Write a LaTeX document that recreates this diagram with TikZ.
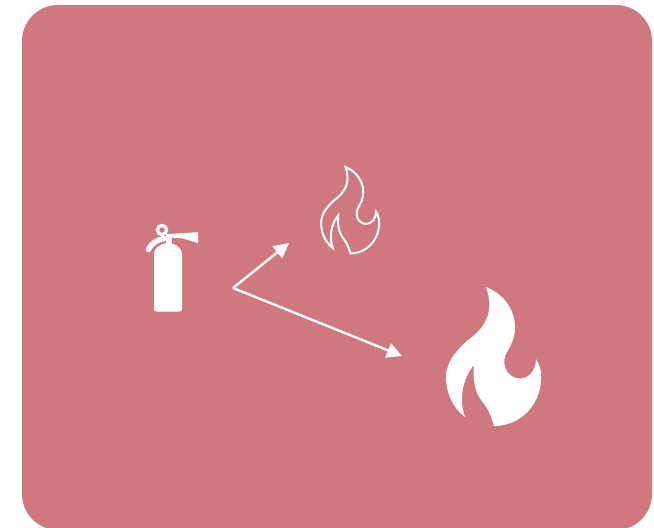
\documentclass[tikz,border=0pt]{standalone}
\usetikzlibrary{arrows.meta}
\definecolor{panelrose}{HTML}{D0787F}
\newcommand{\flamepath}{
  (486,287) .. controls (506,295) and (515,312) .. (515,327)
  .. controls (515,340) and (510,346) .. (507,352)
  .. controls (504,357) and (503.5,362) .. (505,367)
  .. controls (507,374) and (513,378.5) .. (520,378.5)
  .. controls (529,378.5) and (536,370) .. (536,359)
  .. controls (540,365) and (542,372) .. (541,381)
  .. controls (539,408) and (518,426) .. (494,426)
  .. controls (491,414) and (486,406) .. (481,400)
  .. controls (474,390) and (473,378) .. (474,365)
  .. controls (464,376) and (458,398) .. (465,417)
  .. controls (452,407) and (446,392) .. (446,377)
  .. controls (446,361) and (458,349) .. (468,340)
  .. controls (485,328) and (495,312) .. (486,287) -- cycle
}
\tikzset{
  pointer/.style={draw=white,line width=2.4pt,-{Triangle[length=15pt,width=15pt]}},
  panel/.style={fill=panelrose,draw=none}
}
\begin{document}
\begin{tikzpicture}[x=1pt,y=-1pt]
\useasboundingbox (0,0) rectangle (654,528);
\fill[white] (0,0) rectangle (654,528);
\path[panel,rounded corners=36pt] (22,530) -- (22,5) -- (652,5) -- (652,530) -- cycle;
% extinguisher
\fill[white,rounded corners=2.5pt] (154,311.5) -- (154,256) .. controls (154,249) and (160,244) .. (168,243) .. controls (176,244) and (182,249) .. (182,256) -- (182,311.5) -- cycle;
\draw[white,line width=3.2pt] (162,230) circle (4.6);
\fill[white] (171,233.8) -- (198,232.2) -- (198,243) -- (183,238.5) -- (171,237.5) -- cycle;
\fill[white] (165.5,234) rectangle (171.5,245);
\draw[white,line width=5.4pt,line cap=round] (164,238.5) .. controls (157,239.5) and (151,244) .. (148.5,249.5);
% flames
\fill[white] \flamepath;
\begin{scope}[shift={(345.5,167)},xscale=0.61,yscale=0.622,shift={(-486,-287)}]
\draw[white,line width=2pt,line join=miter] \flamepath;
\end{scope}
% arrows
\coordinate (origin) at (233,288);
\coordinate (smallend) at (289,243);
\coordinate (bigend) at (402,356);
\draw[pointer] (origin) -- (smallend);
\draw[pointer] (origin) -- (bigend);
\end{tikzpicture}
\end{document}
